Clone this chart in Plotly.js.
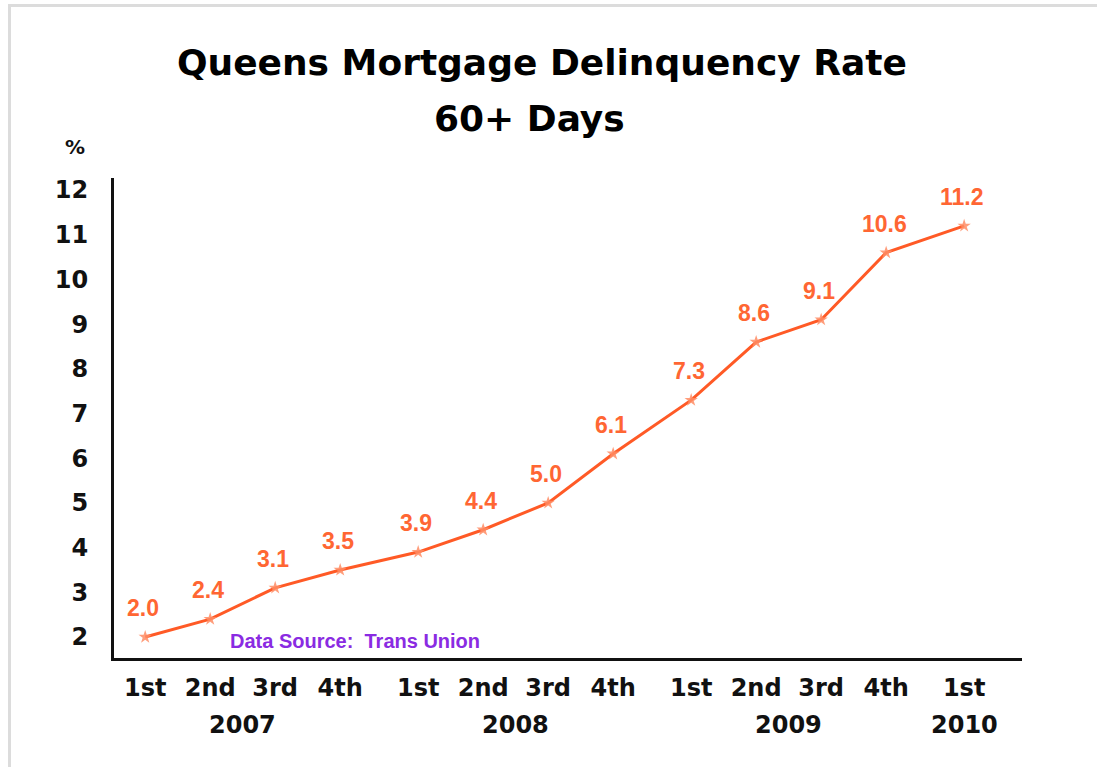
<!DOCTYPE html>
<html>
<head>
<meta charset="utf-8">
<script src="https://cdn.plot.ly/plotly-3.0.1.min.js"></script>
<style>
  html, body { margin: 0; padding: 0; background: #fff; }
  #chart { width: 1097px; height: 767px; position: absolute; left: 0; top: 0; }
  #frame { position: absolute; left: 8px; top: 4px; width: 1100px; height: 800px;
           border-left: 3px solid #dcdcdc; border-top: 3px solid #dcdcdc; pointer-events: none; }
</style>
</head>
<body>
<div id="chart"></div>
<div id="frame"></div>
<script>
// ---- data ----
const quarters = ["1st", "2nd", "3rd", "4th", "1st", "2nd", "3rd", "4th", "1st", "2nd", "3rd", "4th", "1st"];
const years    = [2007, 2007, 2007, 2007, 2008, 2008, 2008, 2008, 2009, 2009, 2009, 2009, 2010];
const rates    = [2.0, 2.4, 3.1, 3.5, 3.9, 4.4, 5.0, 6.1, 7.3, 8.6, 9.1, 10.6, 11.2];
const yearLabels = [2007, 2008, 2009, 2010];
const titleLine1 = 'Queens Mortgage Delinquency Rate';
const titleLine2 = '60+ Days';

// ---- positions: evenly spaced quarters with a small gap between years ----
const yearGap = 0.2;
const firstYear = years[0];
const xpos = quarters.map((q, i) => i + (years[i] - firstYear) * yearGap);

const orange = '#ff5a26';
const labelOrange = '#ff6633';
const boldFont = 'DejaVu Sans, sans-serif';

const trace = {
  x: xpos,
  y: rates,
  type: 'scatter',
  mode: 'lines+markers',
  line: { color: orange, width: 3 },
  marker: { symbol: 'star', size: 10, color: 'rgba(255,140,100,0.85)' },
  hoverinfo: 'y'
};

const annotations = [];
// value labels
rates.forEach((v, i) => {
  annotations.push({
    x: xpos[i], y: v, xref: 'x', yref: 'y',
    text: v.toFixed(1), showarrow: false,
    yshift: 29, xshift: -2,
    font: { family: 'Liberation Sans, Arial, sans-serif', size: 23, color: labelOrange, weight: 'bold' }
  });
});
// year labels
yearLabels.forEach(yr => {
  const xs = xpos.filter((x, i) => years[i] === yr);
  const mid = xs.reduce((a, b) => a + b, 0) / xs.length;
  annotations.push({
    x: mid, y: -0.14, xref: 'x', yref: 'paper',
    text: String(yr), showarrow: false, yanchor: 'middle',
    font: { family: boldFont, size: 24, color: '#111', weight: 'bold' }
  });
});
// second title line
annotations.push({
  x: 0.458, y: 1.125, xref: 'paper', yref: 'paper',
  text: titleLine2, showarrow: false, xanchor: 'center', yanchor: 'middle',
  font: { family: boldFont, size: 36, color: '#000', weight: 'bold' }
});
// % label
annotations.push({
  x: -0.03, y: 1.065, xref: 'paper', yref: 'paper',
  text: '%', showarrow: false, xanchor: 'right', yanchor: 'middle',
  font: { family: boldFont, size: 20, color: '#111', weight: 'bold' }
});
// data source
annotations.push({
  x: xpos[1] + (xpos[1] - xpos[0]) * 0.27, y: 1.9, xref: 'x', yref: 'y',
  text: 'Data Source:\u00A0\u00A0Trans Union', showarrow: false, xanchor: 'left', yanchor: 'middle',
  font: { family: 'Liberation Sans, Arial, sans-serif', size: 20, color: '#8a2be2', weight: 'bold' }
});

const layout = {
  width: 1097, height: 767,
  margin: { l: 114, r: 75, t: 178, b: 109 },
  paper_bgcolor: '#ffffff', plot_bgcolor: '#ffffff',
  showlegend: false,
  title: {
    text: titleLine1,
    x: 0.494, xref: 'container', xanchor: 'center',
    y: 0.919, yref: 'container', yanchor: 'middle',
    font: { family: boldFont, size: 36, color: '#000', weight: 'bold' }
  },
  xaxis: {
    range: [-0.48, 13.49],
    tickmode: 'array', tickvals: xpos, ticktext: quarters,
    showgrid: false, zeroline: false,
    showline: true, linecolor: '#111', linewidth: 3,
    ticks: 'outside', ticklen: 6, tickcolor: 'rgba(0,0,0,0)',
    tickfont: { family: boldFont, size: 24, color: '#111', weight: 'bold' }
  },
  yaxis: {
    range: [1.53, 12.27],
    tickmode: 'linear', tick0: 2, dtick: 1,
    showgrid: false, zeroline: false,
    showline: true, linecolor: '#111', linewidth: 3,
    ticks: 'outside', ticklen: 18, tickcolor: 'rgba(0,0,0,0)',
    tickfont: { family: boldFont, size: 24, color: '#111', weight: 'bold' }
  },
  annotations: annotations
};

Plotly.newPlot('chart', [trace], layout, { displayModeBar: false, staticPlot: true });
</script>
</body>
</html>
